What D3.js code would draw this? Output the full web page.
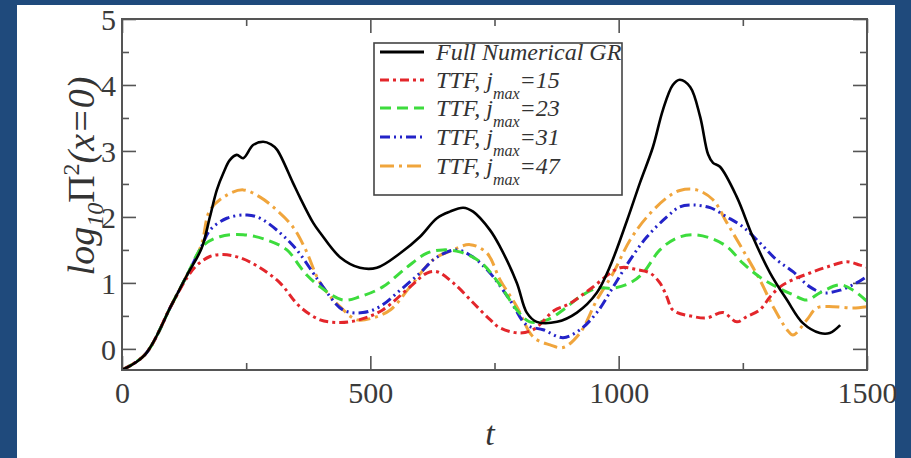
<!DOCTYPE html>
<html>
<head>
<meta charset="utf-8">
<script src="https://cdn.jsdelivr.net/npm/d3@7"></script>
<style>
  body { margin: 0; background: #1f4a7c; }
  svg { display: block; }
  .axis path { display: none; }
  .axis line { stroke: #555; stroke-width: 1.6; }
  .axis text { font-family: "Liberation Serif", "DejaVu Serif", serif; font-size: 30px; fill: #3a3a3a; }
</style>
</head>
<body>
<div id="chart"></div>
<script>
// chart values: [t, log10 Pi^2(x=0)]
var fullGR = [[0,-0.32],[46,-0.09],[100,0.67],[131,1.12],[160,1.52],[177,2.0],[191,2.41],[205,2.68],[217,2.86],[231,2.94],[244,2.89],[264,3.09],[284,3.14],[300,3.1],[312,3.02],[344,2.52],[358,2.30],[385,1.91],[399,1.76],[439,1.39],[479,1.23],[513,1.23],[560,1.45],[600,1.70],[634,1.98],[660,2.08],[687,2.14],[707,2.08],[741,1.80],[761,1.55],[795,1.0],[815,0.55],[835,0.41],[876,0.41],[916,0.55],[956,0.85],[982,1.24],[1017,1.95],[1043,2.52],[1069,3.06],[1089,3.62],[1109,4.0],[1123,4.08],[1144,3.97],[1164,3.52],[1180,2.95],[1190,2.82],[1204,2.76],[1238,2.30],[1270,1.70],[1305,1.15],[1339,0.74],[1371,0.39],[1405,0.24],[1425,0.24],[1446,0.36]];
var ttf15 = [[0,-0.32],[46,-0.09],[100,0.67],[131,1.08],[151,1.27],[177,1.40],[203,1.43],[238,1.38],[278,1.23],[318,1.0],[358,0.64],[399,0.44],[433,0.40],[459,0.41],[490,0.47],[525,0.59],[580,0.94],[614,1.15],[634,1.17],[667,1.0],[707,0.70],[740,0.45],[761,0.32],[801,0.24],[830,0.30],[870,0.58],[900,0.68],[945,0.92],[1003,1.23],[1037,1.20],[1063,1.15],[1083,1.0],[1097,0.79],[1109,0.59],[1150,0.49],[1178,0.47],[1210,0.55],[1238,0.41],[1258,0.49],[1284,0.59],[1305,0.79],[1325,0.94],[1351,1.05],[1385,1.15],[1419,1.24],[1459,1.32],[1486,1.27],[1500,1.24]];
var ttf23 = [[0,-0.32],[46,-0.09],[100,0.67],[131,1.12],[163,1.56],[197,1.70],[244,1.73],[292,1.65],[332,1.5],[358,1.25],[372,1.12],[399,0.94],[445,0.74],[479,0.79],[525,0.94],[574,1.24],[614,1.45],[646,1.50],[680,1.47],[721,1.32],[758,1.0],[795,0.59],[821,0.41],[856,0.44],[888,0.59],[922,0.79],[956,0.92],[989,0.92],[1023,1.0],[1049,1.15],[1083,1.5],[1117,1.68],[1150,1.73],[1184,1.68],[1218,1.55],[1250,1.30],[1284,1.09],[1318,0.94],[1351,0.82],[1379,0.74],[1405,0.85],[1446,0.97],[1472,0.89],[1500,0.72]];
var ttf31 = [[0,-0.32],[46,-0.09],[100,0.67],[131,1.12],[160,1.55],[177,1.8],[211,1.98],[252,2.03],[278,1.98],[318,1.76],[352,1.5],[385,1.15],[399,1.0],[445,0.59],[485,0.55],[519,0.64],[560,0.89],[600,1.15],[634,1.39],[674,1.5],[707,1.39],[741,1.15],[781,0.74],[815,0.36],[848,0.29],[888,0.17],[922,0.29],[956,0.55],[989,0.94],[1023,1.35],[1057,1.70],[1097,2.0],[1123,2.15],[1150,2.18],[1184,2.14],[1218,2.0],[1250,1.85],[1284,1.61],[1318,1.35],[1351,1.17],[1385,0.94],[1412,0.85],[1446,0.89],[1479,1.0],[1500,1.1]];
var ttf47 = [[0,-0.32],[46,-0.09],[100,0.67],[131,1.12],[160,1.58],[177,2.1],[211,2.33],[244,2.41],[278,2.30],[312,2.1],[344,1.85],[370,1.5],[399,1.0],[439,0.64],[473,0.44],[505,0.47],[540,0.59],[580,0.94],[626,1.35],[666,1.5],[701,1.58],[735,1.45],[761,1.05],[795,0.64],[828,0.18],[862,0.06],[888,0.02],[922,0.24],[956,0.74],[989,1.15],[1023,1.65],[1057,2.0],[1097,2.29],[1123,2.40],[1157,2.41],[1190,2.26],[1218,1.91],[1250,1.5],[1284,1.05],[1311,0.64],[1339,0.29],[1351,0.21],[1379,0.44],[1399,0.62],[1432,0.64],[1472,0.62],[1500,0.64]];

var seriesNames = ["Full Numerical GR", "15", "23", "31", "47"];
var seriesData = [fullGR, ttf15, ttf23, ttf31, ttf47];
var seriesColors = ["#000000", "#e3262b", "#3ddc3d", "#2323c8", "#f0a53c"];
var seriesDash = ["none", "9,4,3,4", "11,6", "10,4,2,4,2,4", "14,5,3,5"];

var xMajor = [0, 500, 1000, 1500];
var xMinor = [250, 750, 1250];
var yMajor = [0, 1, 2, 3, 4, 5];
var yMinor = [0.5, 1.5, 2.5, 3.5, 4.5];

var svgWidth = 911;
var svgHeight = 458;

var svg = d3.select("#chart")
  .append("svg")
  .attr("width", svgWidth)
  .attr("height", svgHeight);

// white slide area inside the blue frame
svg.append("rect")
  .attr("x", 17).attr("y", 5)
  .attr("width", 878).attr("height", 453)
  .attr("fill", "#ffffff");

var plot = {left: 122, top: 19, right: 867, bottom: 370};

var xScale = d3.scaleLinear().domain([0, 1500]).range([plot.left, plot.right]);
var yScale = d3.scaleLinear().domain([-0.32, 5]).range([plot.bottom, plot.top]);

var fmt = d3.format("d");

// ticks on all four sides, pointing inward
svg.append("g").attr("class", "axis")
  .attr("transform", `translate(0, ${plot.bottom})`)
  .call(d3.axisBottom(xScale).tickValues(xMajor).tickFormat(fmt).tickSizeInner(-14).tickSizeOuter(0))
  .selectAll("text").attr("y", 12).attr("dy", "0.71em");
svg.append("g").attr("class", "axis")
  .attr("transform", `translate(0, ${plot.bottom})`)
  .call(d3.axisBottom(xScale).tickValues(xMinor).tickSizeInner(-7).tickSizeOuter(0).tickFormat(""));
svg.append("g").attr("class", "axis")
  .attr("transform", `translate(0, ${plot.top})`)
  .call(d3.axisTop(xScale).tickValues(xMajor).tickSizeInner(-14).tickSizeOuter(0).tickFormat(""));
svg.append("g").attr("class", "axis")
  .attr("transform", `translate(0, ${plot.top})`)
  .call(d3.axisTop(xScale).tickValues(xMinor).tickSizeInner(-7).tickSizeOuter(0).tickFormat(""));

svg.append("g").attr("class", "axis")
  .attr("transform", `translate(${plot.left}, 0)`)
  .call(d3.axisLeft(yScale).tickValues(yMajor).tickFormat(fmt).tickSizeInner(-14).tickSizeOuter(0))
  .selectAll("text").attr("x", -6).attr("dy", "0.34em");
svg.append("g").attr("class", "axis")
  .attr("transform", `translate(${plot.left}, 0)`)
  .call(d3.axisLeft(yScale).tickValues(yMinor).tickSizeInner(-7).tickSizeOuter(0).tickFormat(""));
svg.append("g").attr("class", "axis")
  .attr("transform", `translate(${plot.right}, 0)`)
  .call(d3.axisRight(yScale).tickValues(yMajor).tickSizeInner(-14).tickSizeOuter(0).tickFormat(""));
svg.append("g").attr("class", "axis")
  .attr("transform", `translate(${plot.right}, 0)`)
  .call(d3.axisRight(yScale).tickValues(yMinor).tickSizeInner(-7).tickSizeOuter(0).tickFormat(""));

// clip the curves to the frame
svg.append("clipPath").attr("id", "clip")
  .append("rect")
  .attr("x", plot.left).attr("y", plot.top)
  .attr("width", plot.right - plot.left).attr("height", plot.bottom - plot.top);

var line = d3.line()
  .x(d => xScale(d[0]))
  .y(d => yScale(d[1]))
  .curve(d3.curveCatmullRom.alpha(0.5));

var curves = svg.append("g").attr("clip-path", "url(#clip)");
// draw colored ones first, black on top
[4, 3, 2, 1, 0].forEach(function(i) {
  curves.append("path")
    .attr("d", line(seriesData[i]))
    .attr("fill", "none")
    .attr("stroke", seriesColors[i])
    .attr("stroke-width", i === 0 ? 2.6 : 3)
    .attr("stroke-dasharray", seriesDash[i])
    .attr("stroke-linejoin", "round");
});

// frame
svg.append("rect")
  .attr("x", plot.left).attr("y", plot.top)
  .attr("width", plot.right - plot.left).attr("height", plot.bottom - plot.top)
  .attr("fill", "none")
  .attr("stroke", "#555")
  .attr("stroke-width", 2);

// legend
var legend = svg.append("g");
legend.append("rect")
  .attr("x", 374).attr("y", 43)
  .attr("width", 248).attr("height", 152)
  .attr("fill", "#fff")
  .attr("stroke", "#444")
  .attr("stroke-width", 1.6);

var rowY = [52, 80, 108, 137, 166];
seriesNames.forEach(function(name, i) {
  legend.append("line")
    .attr("x1", 380).attr("x2", 424)
    .attr("y1", rowY[i]).attr("y2", rowY[i])
    .attr("stroke", seriesColors[i])
    .attr("stroke-width", 3)
    .attr("stroke-dasharray", seriesDash[i]);

  var t = legend.append("text")
    .attr("x", 436)
    .attr("y", rowY[i] + 8)
    .attr("font-family", "Liberation Serif, serif")
    .attr("font-style", "italic")
    .attr("font-size", 24)
    .attr("fill", "#333");
  if (i === 0) {
    t.text(name);
  } else {
    t.append("tspan").text("TTF, j");
    t.append("tspan").attr("dy", 11).attr("font-size", 16).text("max");
    t.append("tspan").attr("dy", -11).text("=" + name);
  }
});

// axis titles
svg.append("text")
  .attr("x", 490).attr("y", 445)
  .attr("text-anchor", "middle")
  .attr("font-family", "Liberation Serif, serif")
  .attr("font-style", "italic")
  .attr("font-size", 34)
  .attr("fill", "#333")
  .text("t");

var yTitle = svg.append("text")
  .attr("transform", "translate(94, 176) rotate(-90)")
  .attr("text-anchor", "middle")
  .attr("font-family", "Liberation Serif, serif")
  .attr("font-size", 38)
  .attr("fill", "#333");
yTitle.append("tspan").attr("font-style", "italic").text("log");
yTitle.append("tspan").attr("dy", 9).attr("font-size", 24).attr("font-style", "italic").text("10");
yTitle.append("tspan").attr("dy", -9).text("Π");
yTitle.append("tspan").attr("dy", -15).attr("font-size", 24).text("2");
yTitle.append("tspan").attr("dy", 15).attr("font-style", "italic").text("(x=0)");
</script>
</body>
</html>
